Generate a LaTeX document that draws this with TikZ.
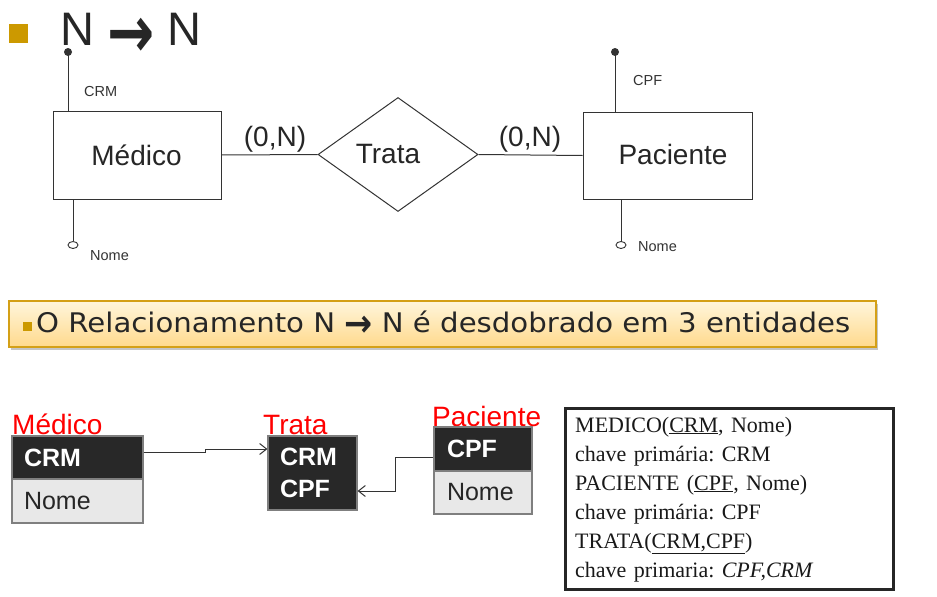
\documentclass[tikz,border=0pt]{standalone}
\usepackage{fontspec}
\usetikzlibrary{shapes.geometric,arrows.meta,shadows,calc}
\newfontfamily\lsans{Liberation Sans}
\newfontfamily\lserif{Liberation Serif}
\newfontfamily\dvsans{DejaVu Sans}
\definecolor{gold}{HTML}{CC9900}
\definecolor{ink}{HTML}{333333}
\definecolor{hdr}{HTML}{282828}
\definecolor{rowc}{HTML}{E8E8E8}
\definecolor{tbord}{HTML}{7F7F7F}
\definecolor{bantop}{HTML}{FFF6DC}
\definecolor{banbot}{HTML}{FFD98C}
\definecolor{banbord}{HTML}{D4A017}
\newsavebox\bannerbox
\frenchspacing
\begin{document}
\begin{tikzpicture}[x=1pt,y=-1pt,
  entity/.style={draw=ink, line width=1pt, rectangle, inner sep=0pt},
  entxt/.style={font=\lsans\fontsize{28}{34}\selectfont, text=black!85, inner sep=0pt, anchor=base},
  attrlbl/.style={font=\lsans\fontsize{14.5}{17}\selectfont, text=ink, inner sep=0pt, anchor=west},
  keydot/.style={circle, fill=ink, inner sep=0pt, minimum size=8pt},
  attrring/.style={ellipse, draw=ink, line width=0.9pt, fill=white, inner sep=0pt, minimum width=10pt, minimum height=7pt},
  link/.style={draw=ink, line width=1pt},
  card/.style={font=\lsans\fontsize{28}{34}\selectfont, text=black!85, inner sep=0pt, anchor=base},
  tblname/.style={font=\lsans\fontsize{28}{34}\selectfont, text=red, inner sep=0pt, anchor=base west},
  tblhdr/.style={rectangle, fill=hdr, draw=tbord, line width=1.2pt, text=white, font=\lsans\bfseries\fontsize{25}{32}\selectfont, align=left, inner ysep=0pt},
  tblrow/.style={rectangle, fill=rowc, draw=tbord, line width=1.2pt, text=black!85, font=\lsans\fontsize{25}{32}\selectfont, align=left, inner ysep=0pt},
  fk/.style={draw=ink, line width=1pt, -{Straight Barb[length=7pt,width=11pt]}},
]
\useasboundingbox[fill=white] (0,0) rectangle (937,597);

% title
\fill[gold] (9,24) rectangle (28,43);
\node[anchor=base west, inner sep=0pt, font=\lsans\fontsize{47}{56}\selectfont, text=black!85] (title) at (60,45) {N {\dvsans\bfseries\raisebox{-12pt}{\scalebox{1.2}[1.55]{→}}} N};

% ER diagram
\node[entity, minimum width=168pt, minimum height=88pt] (medico) at (137,155) {};
\node[entxt] (medtxt) at (136.5,165) {Médico};
\node[diamond, draw=ink, line width=1pt, minimum width=160pt, minimum height=114pt, inner sep=0pt] (trata) at (398,154.5) {};
\node[entxt] (tratatxt) at (388,163) {Trata};
\node[entity, minimum width=169pt, minimum height=87pt] (paciente) at (667.5,155.5) {};
\node[entxt] (pactxt) at (673,164) {Paciente};

\draw[link] (medico.east) -- (trata.west);
\draw[link] (trata.east) -- (paciente.west);
\node[card] (c1) at (275,146) {(0,N)};
\node[card] (c2) at (530,146) {(0,N)};

\node[keydot] (crmdot) at (68,52) {};
\draw[link] (crmdot.center) -- (crmdot |- medico.north);
\node[attrlbl] (crml) at (84,92) {CRM};
\node[attrring] (mnomer) at (73,245) {};
\draw[link] (mnomer.north) -- (mnomer.north |- medico.south);
\node[attrlbl] (mnomel) at (90,256) {Nome};

\node[keydot] (cpfdot) at (615,52) {};
\draw[link] (cpfdot.center) -- (cpfdot |- paciente.north);
\node[attrlbl] (cpfl) at (633,81) {CPF};
\node[attrring] (pnomer) at (621,245) {};
\draw[link] (pnomer.north) -- (pnomer.north |- paciente.south);
\node[attrlbl] (pnomel) at (638,247) {Nome};

% banner
\node[rectangle, draw=banbord, line width=1.2pt, top color=bantop, bottom color=banbot, minimum width=867pt, minimum height=46pt, inner sep=0pt, drop shadow={shadow xshift=2pt, shadow yshift=-3pt, fill=black!45, opacity=0.5}] (banner) at (442.5,324) {};
\fill[gold] (23,322) rectangle (32,331);
\node[anchor=base west, inner sep=0pt, text=black!85] (bantext) at (36,332) {\sbox\bannerbox{\dvsans\fontsize{27}{32}\selectfont O Relacionamento N {\bfseries\raisebox{-4pt}{\scalebox{1.15}[1.4]{→}}} N é desdobrado em 3 entidades}\pgfmathsetmacro\bsx{814pt/\the\wd\bannerbox}\scalebox{\bsx}[1]{\usebox\bannerbox}};

% tables
\node[tblname] (mname) at (12,434) {Médico};
\node[tblhdr, minimum width=131pt, minimum height=43pt, text width=107pt, inner xsep=12pt] (mcrm) at (77.5,457.5) {CRM};
\node[tblrow, minimum width=131pt, minimum height=44pt, text width=107pt, inner xsep=12pt] (mnome) at (77.5,501) {Nome};

\node[tblname] (tname) at (263,434) {Trata};
\node[tblhdr, minimum width=89pt, minimum height=74pt, text width=65pt, inner xsep=12pt] (tbox) at (312.5,473) {CRM\\CPF};

\node[tblname] (pname) at (432,426) {Paciente};
\node[tblhdr, minimum width=98pt, minimum height=44pt, text width=72pt, inner xsep=13pt] (pcpf) at (483,449) {CPF};
\node[tblrow, minimum width=98pt, minimum height=43pt, text width=72pt, inner xsep=13pt] (pnome) at (483,492.5) {Nome};

\coordinate (a1) at ([yshift=5.5pt]mcrm.east);
\coordinate (a2) at ([yshift=24pt]tbox.west);
\draw[fk] (a1) -| ($(a1)!0.5!(a2)$) |- (a2);
\coordinate (b1) at ([yshift=-8pt]pcpf.west);
\coordinate (b2) at ([yshift=-18pt]tbox.east);
\draw[fk] (b1) -| ($(b1)!0.5!(b2)$) |- (b2);

% relational schema box
\node[draw=black!85, line width=3pt, minimum width=328pt, minimum height=181pt, inner sep=0pt] (rbox) at (729.5,499) {};
\node[anchor=base west, inner sep=0pt, text width=315pt, align=left, font=\lserif\fontsize{22}{29}\selectfont, text=black!90] (rtext) at (575,432) {MEDICO(\underline{CRM}, Nome)\\ chave primária: CRM\\ PACIENTE (\underline{CPF}, Nome)\\ chave primária: CPF\\ TRATA(\underline{CRM,CPF})\\ chave primaria: \textit{CPF,CRM}};
\end{tikzpicture}
\end{document}
